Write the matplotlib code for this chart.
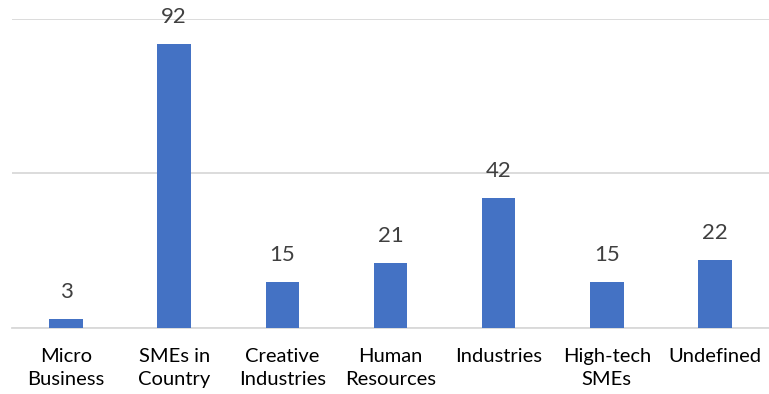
import matplotlib
matplotlib.use("Agg")
import matplotlib.pyplot as plt

categories = ["Micro\nBusiness", "SMEs in\nCountry", "Creative\nIndustries", "Human\nResources",
              "Industries", "High-tech\nSMEs", "Undefined"]
values = [3, 92, 15, 21, 42, 15, 22]

plt.rcParams['font.family'] = ['Lato', 'DejaVu Sans']

fig = plt.figure(figsize=(7.69, 3.94), dpi=100)
ax = fig.add_axes([0.0156, 0.1675, 0.9844, 0.7843])

x = range(len(categories))
bars = ax.bar(x, values, width=0.31, color="#4472C4", zorder=3)
for xi, v in zip(x, values):
    ax.text(xi, v + 5.5, str(v), ha="center", va="bottom", fontsize=16, color="#404040")

ax.set_xlim(-0.5, len(categories) - 0.5)
ax.set_ylim(0, 100)
ax.set_yticks([0, 50, 100])
ax.yaxis.grid(True, color="#D9D9D9", linewidth=1.3, zorder=0)
ax.tick_params(left=False, labelleft=False, bottom=False)
ax.set_xticks(list(x))
ax.set_xticklabels(categories, fontsize=14.5, color="#000000", linespacing=1.4, va="top")
ax.tick_params(axis="x", pad=11)
for s in ["top", "left", "right"]:
    ax.spines[s].set_visible(False)
ax.spines["bottom"].set_color("#D9D9D9")
ax.spines["bottom"].set_linewidth(1.3)

fig.savefig("out.png", dpi=100)
